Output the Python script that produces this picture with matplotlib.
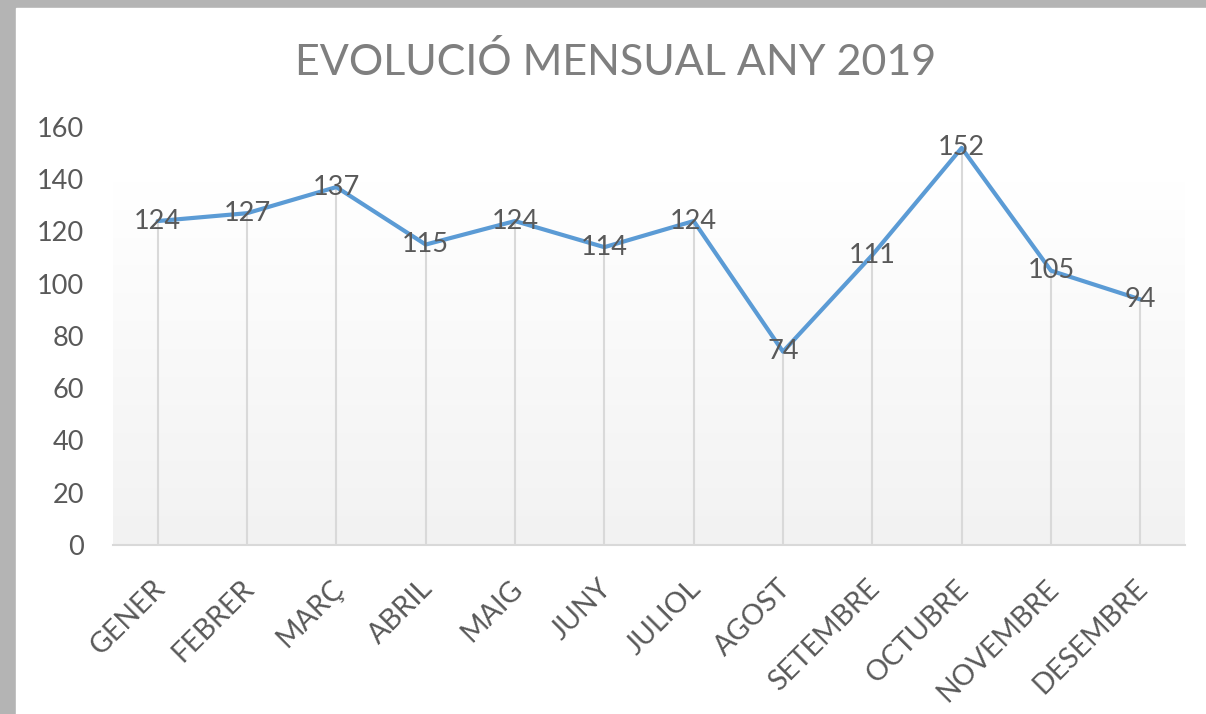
import numpy as np
import matplotlib.pyplot as plt
from matplotlib.patches import Rectangle
from matplotlib.colors import LinearSegmentedColormap
from matplotlib.transforms import ScaledTranslation

mesos = ["GENER", "FEBRER", "MARÇ", "ABRIL", "MAIG", "JUNY", "JULIOL",
         "AGOST", "SETEMBRE", "OCTUBRE", "NOVEMBRE", "DESEMBRE"]
valors = [124, 127, 137, 115, 124, 114, 124, 74, 111, 152, 105, 94]
yticks = [0, 20, 40, 60, 80, 100, 120, 140, 160]

plt.rcParams['font.family'] = ['Lato', 'DejaVu Sans']

fig = plt.figure(figsize=(12.06, 7.14), dpi=100, facecolor='#b4b4b4')
# white chart area over the grey backdrop
fig.patches.append(Rectangle((16 / 1206, 0), 1 - 16 / 1206, 1 - 8 / 714,
                             transform=fig.transFigure, color='white', zorder=-10))

ax = fig.add_axes([113 / 1206, (714 - 545) / 714, (1185 - 113) / 1206, (545 - 127) / 714])
ax.set_facecolor('none')

# plot area gradient, white at the top to light grey at the bottom
grad = np.linspace(0, 1, 256).reshape(-1, 1)
ax.imshow(grad, cmap=LinearSegmentedColormap.from_list('g', ['#f2f2f2', '#ffffff']),
          extent=[0, 1, 0, 0.87], transform=ax.transAxes,
          aspect='auto', zorder=0, origin='lower')

x = np.arange(len(mesos))
ax.vlines(x, 0, valors, color='#d9d9d9', lw=1.5, zorder=1)
ax.plot(x, valors, color='#5b9bd5', lw=3, zorder=2, solid_capstyle='round')
for xi, v in zip(x, valors):
    ax.text(xi, v, str(v), ha='center', va='center', fontsize=19.5, color='#595959', zorder=3)

ax.set_xlim(-0.5, len(mesos) - 0.5)
ax.set_ylim(0, 160)
ax.set_yticks(yticks)
ax.set_xticks(x)
ax.set_xticklabels([])
# month labels, rotated 45 degrees, ending just below each category
lbl_tr = ax.get_xaxis_transform() + ScaledTranslation(-6 / 100, -30 / 100, fig.dpi_scale_trans)
for xi, m in zip(x, mesos):
    ax.text(xi, 0, m, transform=lbl_tr, rotation=45, ha='right', va='top',
            rotation_mode='anchor', fontsize=20.5, color='#595959', clip_on=False)
ax.tick_params(axis='y', length=0, pad=21, labelsize=19.5, labelcolor='#595959')
ax.tick_params(axis='x', length=0)
for s in ['top', 'right', 'left']:
    ax.spines[s].set_visible(False)
ax.spines['bottom'].set_color('#d9d9d9')
ax.spines['bottom'].set_linewidth(1.5)

fig.text(616 / 1206, 1 - 62 / 714, "EVOLUCIÓ MENSUAL ANY 2019", ha='center', va='center',
         fontsize=31, color='#7f7f7f')

fig.savefig('out.png', dpi=100, facecolor=fig.get_facecolor())
